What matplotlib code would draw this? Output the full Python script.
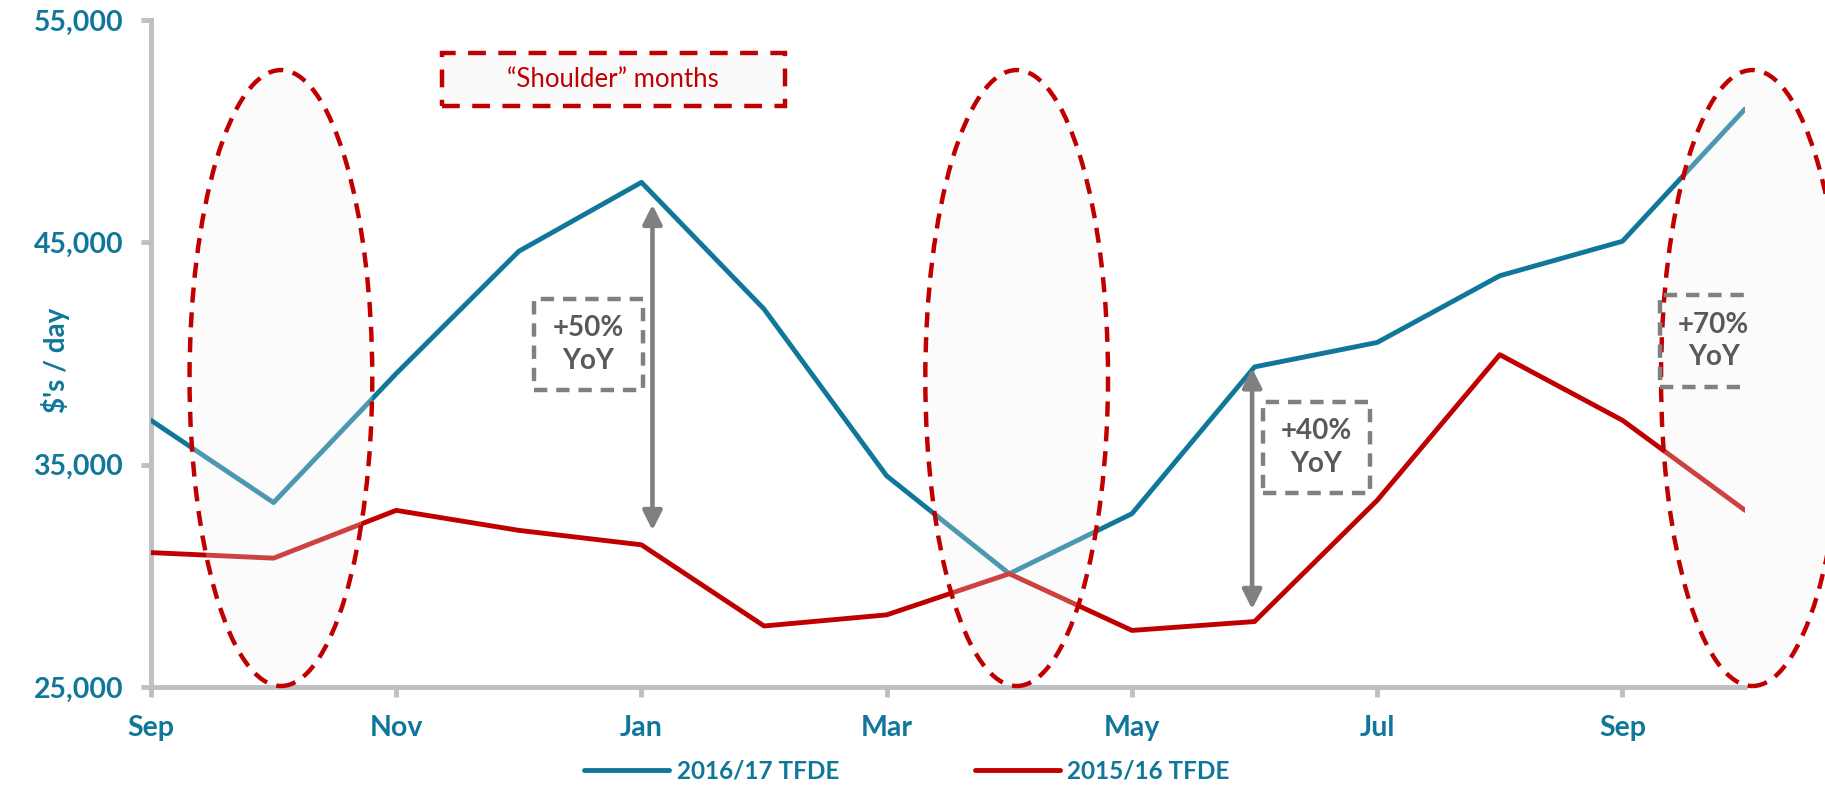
import matplotlib
matplotlib.use("Agg")
from matplotlib import pyplot as plt
from matplotlib.patches import Ellipse, Rectangle

plt.rcParams['font.family'] = ['Lato', 'DejaVu Sans']

# monthly day rates, Sep through the following Oct
months = ['Sep', 'Oct', 'Nov', 'Dec', 'Jan', 'Feb', 'Mar', 'Apr',
          'May', 'Jun', 'Jul', 'Aug', 'Sep', 'Oct']
tfde_1617 = [37000, 33300, 39100, 44600, 47700, 42000, 34500, 30100,
             32800, 39400, 40500, 43500, 45050, 51000]
tfde_1516 = [31050, 30800, 32950, 32050, 31400, 27750, 28250, 30100,
             27550, 27950, 33400, 39950, 37000, 32950]

yticks = [25000, 35000, 45000, 55000]
shoulder = [1, 7, 13]          # month index of each shoulder ellipse
yoy_text = ['+50%\nYoY', '+40%\nYoY', '+70%\nYoY']
yoy_arrows = [(4.09, 46700, 32050), (8.98, 39350, 28500), (13.07, 48600, 34000)]
yoy_boxes = [(3.12, 38360, 0.89, 4090), (9.07, 33730, 0.87, 4090), (12.31, 38500, 0.87, 4130)]

blue = '#10779A'
red = '#C00000'
axgrey = '#BFBFBF'

fig = plt.figure(figsize=(18.25, 7.88), dpi=100)
ax = fig.add_axes([0.0827, 0.128, 0.8735, 0.8466])

x = list(range(len(months)))
ax.plot(x, tfde_1617, color=blue, lw=3.5, label='2016/17 TFDE', zorder=3, solid_capstyle='round')
ax.plot(x, tfde_1516, color=red, lw=3.5, label='2015/16 TFDE', zorder=3, solid_capstyle='round')

# shoulder month ellipses: translucent haze over the lines, dashed red outline
for m in shoulder:
    ax.add_patch(Ellipse((m + 0.06, 38900), 1.49, 27700, facecolor='#F2F2F2', alpha=0.27,
                         edgecolor='none', zorder=4, clip_on=False))
    ax.add_patch(Ellipse((m + 0.06, 38900), 1.49, 27700, facecolor='none', edgecolor=red,
                         lw=3.2, linestyle=(0, (3.4, 2.2)), zorder=5, clip_on=False))

# legend-style box for the ellipses
ax.add_patch(Rectangle((2.37, 51140), 2.8, 2380, facecolor='#FAFAFA', edgecolor=red,
                       lw=3.2, linestyle=(0, (4.0, 2.8)), zorder=5, clip_on=False))
ax.text(2.37 + 1.4, 52330, '\u201cShoulder\u201d months', color=red, fontsize=18.5,
        ha='center', va='center', zorder=6)

# YoY arrows and boxes
for (ax_x, y0, y1), (bx, by, bw, bh), t in zip(yoy_arrows, yoy_boxes, yoy_text):
    ax.annotate('', xy=(ax_x, y1), xytext=(ax_x, y0),
                arrowprops=dict(arrowstyle='<|-|>', color='#808080', lw=3.3,
                                mutation_scale=29, shrinkA=0, shrinkB=0), zorder=6)
    ax.add_patch(Rectangle((bx, by), bw, bh, facecolor='none', edgecolor='#808080',
                           lw=3.2, linestyle=(0, (3.0, 2.0)), zorder=6))
    ax.text(bx + bw / 2, by + bh / 2, t, color='#595959', fontsize=20, fontweight='bold',
            ha='center', va='center', linespacing=1.3, zorder=7)

ax.set_xlim(0, 13)
ax.set_ylim(25000, 55000)
ax.set_xticks(x[::2])
ax.set_xticklabels(months[::2])
ax.set_yticks(yticks)
ax.set_yticklabels([f'{v:,}' for v in yticks])

for s in ['top', 'right']:
    ax.spines[s].set_visible(False)
for s in ['left', 'bottom']:
    ax.spines[s].set_color(axgrey)
    ax.spines[s].set_linewidth(3.5)
    ax.spines[s].set_zorder(2)
ax.tick_params(axis='both', colors=axgrey, width=3.5, length=7, labelsize=20.5,
               labelcolor=blue)
ax.tick_params(axis='y', pad=13)
ax.tick_params(axis='x', pad=13)
for lab in ax.get_xticklabels() + ax.get_yticklabels():
    lab.set_fontweight('bold')

ax.set_ylabel("$'s / day", color=blue, fontsize=20, fontweight='bold', va='center')
ax.yaxis.set_label_coords(-0.060, 0.49)

fig.legend(loc='center', bbox_to_anchor=(0.497, 0.021), ncol=2, frameon=False,
           handlelength=3.5, handletextpad=0.3, columnspacing=5.6,
           prop={'size': 17.5, 'weight': 'bold'}, labelcolor=blue)

fig.savefig('out.png', dpi=100)
